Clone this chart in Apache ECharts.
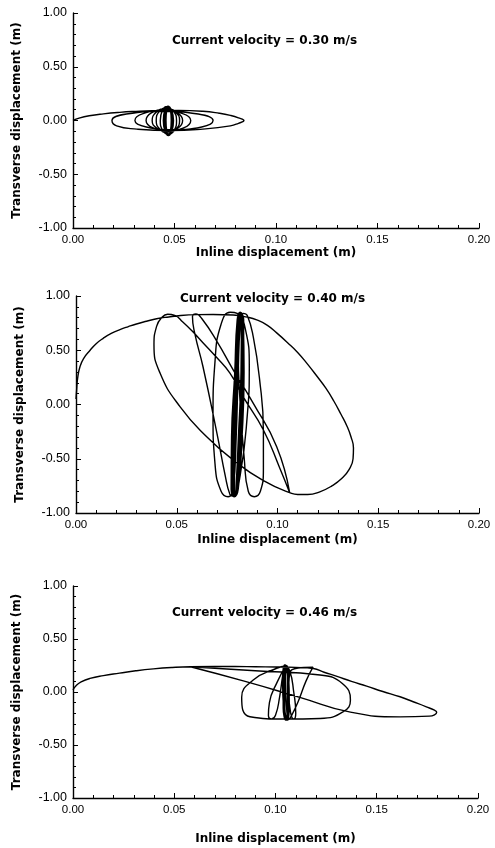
<!DOCTYPE html>
<html>
<head>
<meta charset="utf-8">
<script src="https://cdn.jsdelivr.net/npm/echarts@6/dist/echarts.min.js"></script>
<style>
html,body{margin:0;padding:0;background:#fff;}
#chart{width:495px;height:848px;}
</style>
</head>
<body>
<div id="chart"></div>
<script>
// ---- Data ----
const panelTitles = ['Current velocity = 0.30 m/s', 'Current velocity = 0.40 m/s', 'Current velocity = 0.46 m/s'];
const xAxisTitle = 'Inline displacement (m)';
const yAxisTitle = 'Transverse displacement (m)';
const xTickLabels = ['0.00', '0.05', '0.10', '0.15', '0.20'];
const yTickLabels = ['-1.00', '-0.50', '0.00', '0.50', '1.00'];

// trajectory at 0.30 m/s : [inline (m), transverse (m)]
const traj030 = [
[0.000,0.000],[0.003,0.022],[0.008,0.044],[0.015,0.062],[0.023,0.076],[0.031,0.085],[0.039,0.091],[0.052,0.094],[0.064,0.086],[0.072,0.068],[0.0775,0.048],[0.0815,0.025],[0.0842,0.000],
[0.0815,-0.026],[0.0775,-0.050],[0.064,-0.080],[0.048,-0.094],[0.0315,-0.080],[0.0215,-0.050],[0.0192,0.000],
[0.0263,0.060],[0.044,0.085],[0.0617,0.060],[0.069,0.000],
[0.0634,-0.060],[0.0498,-0.085],[0.0361,-0.060],[0.0305,0.000],
[0.0345,0.064],[0.0443,0.090],[0.054,0.064],[0.058,0.000],
[0.0548,-0.067],[0.047,-0.095],[0.0392,-0.067],[0.036,0.000],
[0.0386,0.070],[0.045,0.100],[0.0514,0.070],[0.054,0.000],
[0.0518,-0.070],[0.0465,-0.100],[0.0412,-0.070],[0.039,0.000],
[0.041,0.078],[0.0458,0.110],[0.0505,0.078],[0.0525,0.000],
[0.0508,-0.080],[0.0468,-0.115],[0.0427,-0.080],[0.041,0.000],
[0.0425,0.085],[0.046,0.120],[0.0495,0.085],[0.051,0.000],
[0.0498,-0.092],[0.047,-0.130],[0.0442,-0.092],[0.043,0.000],
[0.044,0.092],[0.0463,0.130],[0.0486,0.092],[0.0495,0.000],
[0.0488,-0.095],[0.047,-0.135],[0.0452,-0.095],[0.0445,0.000],
[0.0452,0.095],[0.0468,0.130],[0.0484,0.095],[0.049,0.000],
[0.0484,-0.100],[0.047,-0.140],[0.0456,-0.100],[0.045,0.000],
[0.0456,0.100],[0.0468,0.132],[0.048,0.100],[0.0485,0.000],
[0.048,-0.100],[0.047,-0.138],[0.046,-0.100],[0.0455,0.000],
[0.046,0.100],[0.047,0.130],[0.048,0.100],[0.0484,0.000],
[0.048,-0.100],[0.0472,-0.136],[0.0462,-0.100],[0.0458,0.000],
[0.0462,0.100],[0.0472,0.128],[0.0481,0.100],[0.0484,0.000],
[0.048,-0.100],[0.0471,-0.132]
];

// trajectory at 0.40 m/s
const traj040 = [
[0.000,0.050],[0.0003,0.130],[0.0008,0.240],[0.002,0.350],[0.004,0.430],[0.007,0.500],[0.010,0.560],[0.0135,0.610],[0.0175,0.655],[0.0218,0.690],[0.026,0.718],[0.030,0.742],[0.035,0.767],[0.040,0.790],[0.046,0.807],[0.052,0.820],[0.060,0.828],[0.068,0.830],[0.078,0.825],[0.085,0.805],[0.0897,0.780],[0.095,0.730],[0.0996,0.660],[0.105,0.570],[0.110,0.480],[0.115,0.370],[0.1196,0.260],[0.124,0.150],[0.128,0.030],[0.1315,-0.090],[0.1345,-0.200],[0.1365,-0.300],[0.1377,-0.400],[0.1375,-0.500],[0.1355,-0.600],[0.132,-0.680],[0.127,-0.750],[0.121,-0.805],[0.115,-0.830],[0.110,-0.830],[0.107,-0.820],
[0.107,-0.820],[0.0928,-0.700],[0.0779,-0.510],[0.065,-0.300],[0.0516,-0.020],[0.0417,0.290],[0.0387,0.550],[0.040,0.720],[0.0425,0.800],[0.0455,0.832],[0.049,0.822],[0.053,0.760],[0.058,0.670],[0.063,0.570],[0.0695,0.440],[0.0764,0.290],[0.083,0.070],[0.093,-0.235],[0.101,-0.580],[0.106,-0.810],
[0.106,-0.810],[0.0996,-0.390],[0.088,0.010],[0.078,0.320],[0.070,0.580],[0.0625,0.790],[0.0595,0.835],[0.0578,0.810],[0.059,0.650],[0.063,0.350],[0.070,-0.270],[0.074,-0.650],[0.0764,-0.830],[0.078,-0.845],
[0.0815,-0.650],[0.085,-0.100],[0.086,0.350],[0.084,0.700],[0.080,0.840],[0.0765,0.850],[0.072,0.740],[0.069,0.400],[0.068,-0.100],[0.069,-0.550],[0.072,-0.800],[0.0755,-0.850],[0.078,-0.780],
[0.0795,-0.300],[0.0805,0.300],[0.0815,0.720],[0.083,0.840],[0.085,0.820],
[0.088,0.620],[0.091,0.250],[0.093,-0.250],[0.093,-0.600],[0.0915,-0.800],[0.0885,-0.850],[0.0855,-0.800],[0.0835,-0.500],[0.0815,0.000],[0.0805,0.500],[0.0805,0.800],[0.0815,0.850],
[0.0830,0.780],[0.0834,0.300],[0.0824,-0.300],[0.0805,-0.780],[0.0785,-0.850],[0.0770,-0.780],[0.0772,-0.300],[0.0788,0.300],[0.0800,0.780],[0.0815,0.850],
[0.0832,0.780],[0.0832,0.300],[0.0820,-0.300],[0.0802,-0.780],[0.0788,-0.845],[0.0774,-0.780],[0.0776,-0.300],[0.0790,0.300],[0.0803,0.780],[0.0818,0.845],
[0.0829,0.780],[0.0829,0.300],[0.0817,-0.300],[0.0800,-0.780],[0.0786,-0.845],[0.0776,-0.780],[0.0779,-0.300],[0.0793,0.300],[0.0806,0.780],[0.0818,0.845],
[0.0827,0.780],[0.0827,0.300],[0.0814,-0.300],[0.0798,-0.780],[0.0784,-0.840],[0.0778,-0.780],[0.0781,-0.300],[0.0795,0.300],[0.0807,0.780],[0.0819,0.840],
[0.0826,0.780],[0.0825,0.300],[0.0812,-0.300],[0.0797,-0.780],[0.0787,-0.840],[0.0780,-0.780],[0.0783,-0.300],[0.0797,0.300],[0.0809,0.780],[0.0818,0.840],
[0.0824,0.780],[0.0823,0.300],[0.0810,-0.300],[0.0796,-0.780],[0.0789,-0.838],[0.0782,-0.780],[0.0786,-0.300],[0.0799,0.300],[0.0810,0.780],[0.0817,0.838],
[0.0823,0.780],[0.0821,0.300],[0.0808,-0.300],[0.0795,-0.780],[0.0790,-0.836],[0.0784,-0.780],[0.0788,-0.300],[0.0800,0.300],[0.0811,0.780],[0.0816,0.836],
[0.0821,0.780],[0.0819,0.300],[0.0806,-0.300],[0.0794,-0.780],[0.0791,-0.834],[0.0786,-0.780],[0.0790,-0.300],[0.0802,0.300],[0.0811,0.780],[0.0815,0.834]
];

// trajectory at 0.46 m/s
const traj046 = [
[0.000,0.020],[0.0015,0.060],[0.004,0.095],[0.0084,0.128],[0.015,0.155],[0.023,0.178],[0.031,0.200],[0.0397,0.218],[0.049,0.231],[0.058,0.238],
[0.070,0.240],[0.080,0.240],[0.090,0.238],[0.100,0.236],[0.110,0.232],[0.1187,0.222],
[0.124,0.186],[0.130,0.150],[0.1375,0.100],[0.145,0.055],[0.153,0.005],[0.1615,-0.045],[0.168,-0.092],[0.1745,-0.140],[0.1785,-0.172],[0.1796,-0.190],
[0.1785,-0.215],[0.1760,-0.228],[0.1615,-0.235],[0.137,-0.190],[0.112,-0.050],[0.085,0.100],[0.058,0.238],
[0.058,0.238],[0.090,0.200],[0.122,0.160],[0.133,0.080],[0.137,-0.075],[0.1335,-0.186],[0.122,-0.250],[0.105,-0.255],[0.0874,-0.233],[0.0833,-0.050],[0.089,0.113],[0.1006,0.224],[0.105,0.245],
[0.101,0.100],[0.097,-0.100],[0.0965,-0.220],[0.098,-0.255],[0.100,-0.220],[0.102,-0.050],[0.1035,0.150],[0.1045,0.250],[0.107,0.200],[0.109,0.000],[0.110,-0.200],[0.109,-0.255],[0.1075,-0.200],[0.1065,0.000],[0.1075,0.200],
[0.1185,0.235],[0.115,0.100],[0.111,-0.100],[0.108,-0.220],[0.1065,-0.260],
[0.1055,-0.150],[0.105,0.100],[0.1055,0.250],[0.1065,0.150],[0.1068,-0.100],[0.106,-0.265],[0.104,-0.150],[0.1035,0.100],[0.1045,0.255],[0.106,0.150],[0.106,-0.100],[0.105,-0.265],
[0.1038,-0.150],[0.1038,0.100],[0.1048,0.255],[0.1062,0.150],[0.1065,-0.100],[0.1056,-0.265],[0.1042,-0.150],[0.1040,0.100],[0.1050,0.252],[0.1060,0.150],[0.1062,-0.100],[0.1055,-0.262],
[0.1045,-0.150],[0.1043,0.100],[0.1052,0.250],[0.1064,0.150],[0.1066,-0.100],[0.1058,-0.262],[0.1046,-0.150],[0.1046,0.100],[0.1054,0.248],[0.1061,0.120]
];

// ---- Layout ----
const FONT = '"Liberation Sans", Arial, Helvetica, sans-serif';
const BOLDFONT = '"DejaVu Sans", "Liberation Sans", Arial, sans-serif';
const grids = [
  {left: 73, top: 13, width: 406, height: 215},
  {left: 76, top: 296, width: 403, height: 217},
  {left: 73, top: 586, width: 405, height: 212}
];
const xNameGaps = [19, 21, 35];
const titlePos = [{left: 172, top: 35}, {left: 180, top: 293}, {left: 172, top: 607}];
const trajs = [traj030, traj040, traj046];

function xAxisDef(i) {
  return {
    type: 'value', gridIndex: i, min: 0, max: 0.2, interval: 0.05,
    name: xAxisTitle, nameLocation: 'middle', nameGap: xNameGaps[i],
    nameTextStyle: {fontFamily: BOLDFONT, fontSize: 12, fontWeight: 'bold', color: '#000'},
    axisLine: {show: true, onZero: false, lineStyle: {color: '#000', width: 1.4}},
    axisTick: {show: true, inside: true, length: 5, lineStyle: {color: '#000', width: 1}},
    minorTick: {show: true, splitNumber: 5, length: 3, lineStyle: {color: '#000', width: 1}},
    splitLine: {show: false},
    axisLabel: {fontFamily: FONT, fontSize: 11.5, color: '#000', margin: 6,
      formatter: v => xTickLabels[Math.round(v / 0.05)]}
  };
}
function yAxisDef(i) {
  return {
    type: 'value', gridIndex: i, min: -1, max: 1, interval: 0.5,
    name: yAxisTitle, nameLocation: 'middle', nameGap: 50,
    nameTextStyle: {fontFamily: BOLDFONT, fontSize: 12, fontWeight: 'bold', color: '#000'},
    axisLine: {show: true, onZero: false, lineStyle: {color: '#000', width: 1.4}},
    axisTick: {show: true, inside: true, length: 5, lineStyle: {color: '#000', width: 1}},
    minorTick: {show: true, splitNumber: 5, length: 3, lineStyle: {color: '#000', width: 1}},
    splitLine: {show: false},
    axisLabel: {fontFamily: FONT, fontSize: 12.5, color: '#000', margin: 6,
      formatter: v => yTickLabels[Math.round((v + 1) / 0.5)]}
  };
}

const chart = echarts.init(document.getElementById('chart'), null, {renderer: 'canvas'});
chart.setOption({
  animation: false,
  backgroundColor: '#fff',
  title: panelTitles.map((t, i) => ({
    text: t, left: titlePos[i].left, top: titlePos[i].top, padding: 0,
    textStyle: {fontFamily: BOLDFONT, fontSize: 12, fontWeight: 'bold', color: '#000'}
  })),
  grid: grids.map(g => Object.assign({containLabel: false, outerBoundsMode: 'none'}, g)),
  xAxis: [0, 1, 2].map(xAxisDef),
  yAxis: [0, 1, 2].map(yAxisDef),
  series: trajs.map((d, i) => ({
    type: 'line', xAxisIndex: i, yAxisIndex: i, data: d,
    smooth: 0.5, showSymbol: false, symbol: 'none',
    lineStyle: {color: '#000', width: 1.4},
    clip: false
  }))
});
</script>
</body>
</html>
